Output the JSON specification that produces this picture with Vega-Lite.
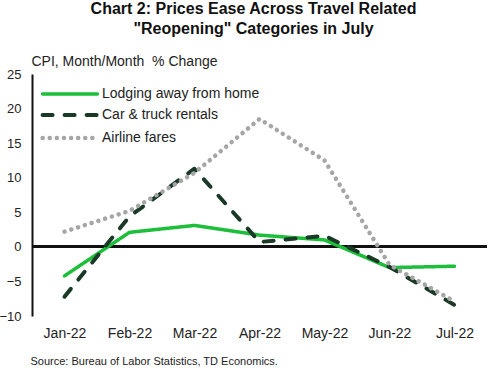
{
  "$schema": "https://vega.github.io/schema/vega-lite/v6.json",
  "width": 455,
  "height": 242,
  "autosize": {"type": "none"},
  "padding": {"left": 32, "top": 74, "right": 2, "bottom": 54},
  "background": "white",
  "config": {
    "font": "Liberation Sans",
    "view": {"stroke": null}
  },
  "title": {
    "text": ["Chart 2: Prices Ease Across Travel Related", "\"Reopening\" Categories in July"],
    "fontSize": 16,
    "fontWeight": "bold",
    "font": "Liberation Sans",
    "color": "#111111",
    "lineHeight": 20,
    "anchor": "middle",
    "frame": "group",
    "dx": -6,
    "offset": 17
  },
  "data": {
    "values": [
      {"month": "Jan-22", "series": "Lodging away from home", "value": -4.2},
      {"month": "Feb-22", "series": "Lodging away from home", "value": 2.1},
      {"month": "Mar-22", "series": "Lodging away from home", "value": 3.1},
      {"month": "Apr-22", "series": "Lodging away from home", "value": 1.7},
      {"month": "May-22", "series": "Lodging away from home", "value": 1.0},
      {"month": "Jun-22", "series": "Lodging away from home", "value": -3.0},
      {"month": "Jul-22", "series": "Lodging away from home", "value": -2.8},
      {"month": "Jan-22", "series": "Car & truck rentals", "value": -7.2},
      {"month": "Feb-22", "series": "Car & truck rentals", "value": 4.4},
      {"month": "Mar-22", "series": "Car & truck rentals", "value": 11.3},
      {"month": "Apr-22", "series": "Car & truck rentals", "value": 0.7},
      {"month": "May-22", "series": "Car & truck rentals", "value": 1.6},
      {"month": "Jun-22", "series": "Car & truck rentals", "value": -2.9},
      {"month": "Jul-22", "series": "Car & truck rentals", "value": -8.4},
      {"month": "Jan-22", "series": "Airline fares", "value": 2.2},
      {"month": "Feb-22", "series": "Airline fares", "value": 5.2},
      {"month": "Mar-22", "series": "Airline fares", "value": 10.7},
      {"month": "Apr-22", "series": "Airline fares", "value": 18.5},
      {"month": "May-22", "series": "Airline fares", "value": 12.5},
      {"month": "Jun-22", "series": "Airline fares", "value": -2.6},
      {"month": "Jul-22", "series": "Airline fares", "value": -7.9}
    ]
  },
  "layer": [
    {
      "mark": {"type": "rule", "color": "#111111", "strokeWidth": 2},
      "encoding": {
        "y": {
          "datum": 0,
          "type": "quantitative",
          "scale": {"domain": [-10, 25], "nice": false, "zero": false},
          "axis": {
            "values": [-10, -5, 0, 5, 10, 15, 20, 25],
            "labelOverlap": false,
            "title": "CPI, Month/Month\u00a0 % Change",
            "titleAngle": 0,
            "titleAlign": "left",
            "titleBaseline": "bottom",
            "titleX": -1,
            "titleY": -6,
            "titleFontSize": 14,
            "titleFontWeight": "normal",
            "titleColor": "#222222",
            "labelFontSize": 13,
            "labelColor": "#222222",
            "labelPadding": 11,
            "ticks": false,
            "grid": false,
            "domainColor": "#111111",
            "domainWidth": 2
          }
        }
      }
    },
    {
      "mark": {"type": "line", "strokeCap": "round", "strokeJoin": "round"},
      "encoding": {
        "x": {
          "field": "month",
          "type": "nominal",
          "sort": ["Jan-22", "Feb-22", "Mar-22", "Apr-22", "May-22", "Jun-22", "Jul-22"],
          "scale": {"padding": 0.5},
          "axis": {
            "title": "Source: Bureau of Labor Statistics, TD Economics.",
            "titleFontSize": 11,
            "titleFontWeight": "normal",
            "titleColor": "#222222",
            "titleAnchor": "start",
            "titleAlign": "left",
            "titleX": -2,
            "titleY": 50,
            "titleBaseline": "bottom",
            "labelAngle": 0,
            "labelFontSize": 14,
            "labelColor": "#222222",
            "labelPadding": 10,
            "domain": false,
            "ticks": false
          }
        },
        "y": {
          "field": "value",
          "type": "quantitative",
          "scale": {"domain": [-10, 25], "nice": false, "zero": false},
          "axis": {
            "values": [-10, -5, 0, 5, 10, 15, 20, 25],
            "labelOverlap": false,
            "title": "CPI, Month/Month\u00a0 % Change",
            "titleAngle": 0,
            "titleAlign": "left",
            "titleBaseline": "bottom",
            "titleX": -1,
            "titleY": -6,
            "titleFontSize": 14,
            "titleFontWeight": "normal",
            "titleColor": "#222222",
            "labelFontSize": 13,
            "labelColor": "#222222",
            "labelPadding": 11,
            "ticks": false,
            "grid": false,
            "domainColor": "#111111",
            "domainWidth": 2
          }
        },
        "color": {
          "field": "series",
          "type": "nominal",
          "scale": {
            "domain": ["Lodging away from home", "Car & truck rentals", "Airline fares"],
            "range": ["#1DBF3A", "#1A3A27", "#A6A6A6"]
          },
          "legend": {
            "title": null,
            "orient": "none",
            "legendX": 31,
            "legendY": 13,
            "symbolType": "M-10,0H10",
            "symbolSize": 30,
            "labelFontSize": 14,
            "labelColor": "#222222",
            "labelOffset": 25,
            "rowPadding": 6,
            "symbolStrokeWidth": 4,
            "encode": {"symbols": {"update": {"strokeCap": {"value": "round"}}}}
          }
        },
        "strokeDash": {
          "field": "series",
          "type": "nominal",
          "scale": {
            "domain": ["Lodging away from home", "Car & truck rentals", "Airline fares"],
            "range": [[1, 0], [10, 12], [0.1, 7]]
          },
          "legend": {
            "title": null,
            "orient": "none",
            "legendX": 31,
            "legendY": 13,
            "symbolType": "M-10,0H10",
            "symbolSize": 30,
            "labelFontSize": 14,
            "labelColor": "#222222",
            "labelOffset": 25,
            "rowPadding": 6,
            "symbolStrokeWidth": 4,
            "encode": {"symbols": {"update": {"strokeCap": {"value": "round"}}}}
          }
        },
        "strokeWidth": {
          "field": "series",
          "type": "nominal",
          "scale": {
            "domain": ["Lodging away from home", "Car & truck rentals", "Airline fares"],
            "range": [3.5, 4.5, 3.5]
          },
          "legend": null
        }
      }
    }
  ]
}
